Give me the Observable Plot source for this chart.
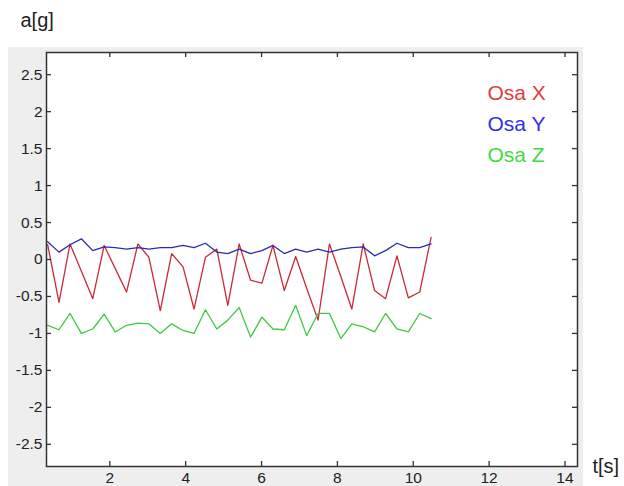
<!DOCTYPE html>
<html>
<head>
<meta charset="utf-8">
<script src="https://cdn.jsdelivr.net/npm/d3@7"></script>
<script src="https://cdn.jsdelivr.net/npm/@observablehq/plot@0.6"></script>
<style>
  html, body { margin: 0; padding: 0; background: #ffffff; }
  #wrap { position: relative; width: 624px; height: 486px; overflow: hidden; }
  #panel { position: absolute; left: 8px; top: 47px; width: 575px; height: 439px; background: #eeeeee; }
  #chart { position: absolute; left: 0; top: 0; }
</style>
</head>
<body>
<div id="wrap"><div id="panel"></div><div id="chart"></div></div>
<script>
// time samples [s]
const t = [0.36, 0.66, 0.95, 1.25, 1.55, 1.85, 2.14, 2.44, 2.74, 3.03,
           3.33, 3.63, 3.93, 4.22, 4.52, 4.82, 5.11, 5.41, 5.71, 6.01,
           6.30, 6.60, 6.90, 7.19, 7.49, 7.79, 8.09, 8.38, 8.68, 8.98,
           9.27, 9.57, 9.87, 10.17, 10.47];
// acceleration [g]
const osaX = [0.20, -0.58, 0.21, -0.16, -0.53, 0.19, -0.12, -0.44, 0.21, 0.03,
              -0.69, 0.08, -0.10, -0.67, 0.03, 0.14, -0.62, 0.21, -0.28, -0.32,
              0.19, -0.42, 0.04, -0.39, -0.82, 0.21, -0.23, -0.67, 0.21, -0.42,
              -0.53, 0.05, -0.52, -0.44, 0.30];
const osaY = [0.24, 0.10, 0.20, 0.28, 0.12, 0.17, 0.16, 0.14, 0.16, 0.14,
              0.16, 0.16, 0.19, 0.16, 0.22, 0.10, 0.08, 0.14, 0.08, 0.12,
              0.19, 0.08, 0.14, 0.10, 0.14, 0.10, 0.14, 0.16, 0.17, 0.05,
              0.12, 0.22, 0.16, 0.16, 0.21];
const osaZ = [-0.89, -0.95, -0.73, -1.00, -0.94, -0.74, -0.98, -0.89, -0.86, -0.87,
              -1.00, -0.87, -0.96, -1.00, -0.68, -0.94, -0.82, -0.65, -1.05, -0.78,
              -0.94, -0.95, -0.62, -1.03, -0.73, -0.73, -1.07, -0.87, -0.91, -0.98,
              -0.73, -0.94, -0.98, -0.73, -0.80];

const seriesNames = ["Osa X", "Osa Y", "Osa Z"];
const seriesValues = [osaX, osaY, osaZ];
const lineColors = ["#c82a36", "#2b2bb0", "#40c840"];
const textColors = ["#e23c3c", "#2f2fe6", "#3fdc3f"];

const xTicks = [2, 4, 6, 8, 10, 12, 14];
const yTicks = [-2.5, -2, -1.5, -1, -0.5, 0, 0.5, 1, 1.5, 2, 2.5];
const xDomain = [0.33, 14.33];
const yDomain = [-2.8, 2.8];

const W = 624, H = 486;
const mL = 46, mR = 47, mT = 52, mB = 20;
const pw = W - mL - mR, ph = H - mT - mB;
const tick = 5;
const font = "'Liberation Sans', Arial, Helvetica, sans-serif";

const lineMarks = seriesValues.map((vals, i) =>
  Plot.line(t.map((tt, j) => ({t: tt, v: vals[j]})),
    {x: "t", y: "v", stroke: lineColors[i], strokeWidth: 1.3})
);

const legendDy = [41, 72, 103];
const legendMarks = seriesNames.map((name, i) =>
  Plot.text([name], {frameAnchor: "top-left", dx: 441, dy: legendDy[i],
    textAnchor: "start", lineAnchor: "middle", fontSize: 21, fill: textColors[i]})
);

const chart = Plot.plot({
  width: W, height: H,
  marginLeft: mL, marginRight: mR, marginTop: mT, marginBottom: mB,
  x: {domain: xDomain, label: null},
  y: {domain: yDomain, label: null},
  style: {background: "transparent", fontFamily: font, color: "#222"},
  marks: [
    Plot.frame({fill: "white", stroke: null}),
    ...lineMarks,
    Plot.axisX(xTicks, {anchor: "bottom", tickSize: 0, tickPadding: 5, fontSize: 15.5, label: null}),
    Plot.axisY(yTicks, {anchor: "left", tickSize: 0, tickPadding: 4, fontSize: 15.5, label: null,
      tickFormat: d => String(d)}),
    Plot.ruleX(xTicks, {x: d => d, insetTop: ph - tick, stroke: "#333", strokeWidth: 1.3}),
    Plot.ruleX(xTicks, {x: d => d, insetBottom: ph - tick, stroke: "#333", strokeWidth: 1.3}),
    Plot.ruleY(yTicks, {y: d => d, insetRight: pw - tick, stroke: "#333", strokeWidth: 1.3}),
    Plot.ruleY(yTicks, {y: d => d, insetLeft: pw - tick, stroke: "#333", strokeWidth: 1.3}),
    Plot.frame({stroke: "#333", strokeWidth: 1.5}),
    ...legendMarks,
    Plot.text(["a[g]"], {frameAnchor: "top-left", dx: -26, dy: -32, textAnchor: "start", lineAnchor: "middle", fontSize: 20, fill: "#222"}),
    Plot.text(["t[s]"], {frameAnchor: "bottom-right", dx: 15, dy: 0, textAnchor: "start", lineAnchor: "middle", fontSize: 20, fill: "#222"})
  ]
});
document.getElementById("chart").appendChild(chart);
</script>
</body>
</html>
